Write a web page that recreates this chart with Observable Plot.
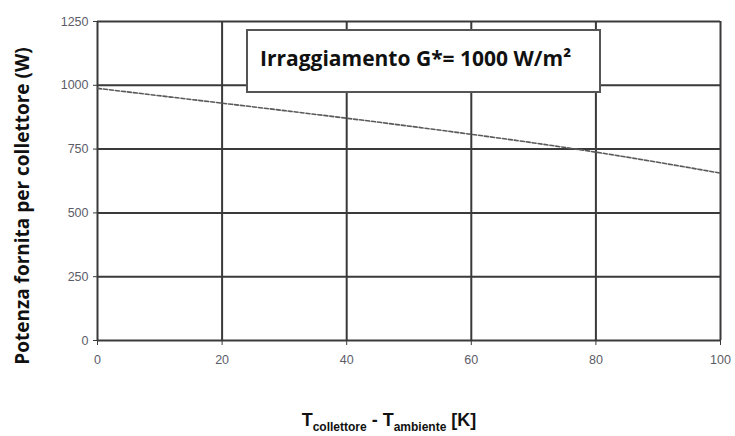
<!DOCTYPE html>
<html>
<head>
<meta charset="utf-8">
<script src="https://cdn.jsdelivr.net/npm/d3@7"></script>
<script src="https://cdn.jsdelivr.net/npm/@observablehq/plot@0.6"></script>
<style>
  html, body { margin: 0; padding: 0; background: #fff; }
  #chart { width: 735px; height: 436px; }
</style>
</head>
<body>
<div id="chart"></div>
<script>
// Data
const deltaT = [0, 20, 40, 60, 80, 100];           // K
const power = [988, 930, 871, 808, 738, 656];      // W
const xTicks = [0, 20, 40, 60, 80, 100];
const yTicks = [0, 250, 500, 750, 1000, 1250];
const yLabel = "Potenza fornita per collettore (W)";
const boxTitle = "Irraggiamento G*= 1000 W/m²";

const data = deltaT.map((d, i) => ({x: d, y: power[i]}));

const plot = Plot.plot({
  width: 735,
  height: 436,
  marginLeft: 97,
  marginRight: 15,
  marginTop: 21,
  marginBottom: 96,
  style: {background: "#fff", fontFamily: "Liberation Sans, Arial, sans-serif"},
  x: {domain: [0, 100], ticks: xTicks},
  y: {domain: [0, 1250], ticks: yTicks},
  marks: [
    Plot.gridX(xTicks, {stroke: "#3a3a3a", strokeOpacity: 1, strokeWidth: 2}),
    Plot.gridY(yTicks, {stroke: "#3a3a3a", strokeOpacity: 1, strokeWidth: 2}),
    Plot.axisX(xTicks, {tickSize: 5, tickPadding: 10, label: null, fill: "#5c5c68", stroke: "#3a3a3a", fontSize: 12.5, tickFormat: d => String(d)}),
    Plot.axisY(yTicks, {tickSize: 4, tickPadding: 5, label: null, fill: "#5c5c68", stroke: "#3a3a3a", fontSize: 12.5, tickFormat: d => String(d)}),
    Plot.line(data, {x: "x", y: "y", curve: "natural", stroke: "#5a5a5a", strokeWidth: 1.6, strokeDasharray: "4,2"})
  ]
});

document.getElementById("chart").appendChild(plot);

const svg = d3.select(plot);

// Title box
const box = svg.append("g");
box.append("rect")
  .attr("x", 247).attr("y", 30).attr("width", 353).attr("height", 62)
  .attr("fill", "#fff").attr("stroke", "#555").attr("stroke-width", 2);
box.append("text")
  .attr("x", 260).attr("y", 60)
  .attr("text-anchor", "start").attr("dominant-baseline", "middle")
  .attr("font-family", "'Open Sans', sans-serif").attr("font-weight", "bold")
  .attr("font-size", 21).attr("fill", "#111")
  .text(boxTitle);

// Y axis label
svg.append("text")
  .attr("transform", "translate(24,206) rotate(-90)")
  .attr("text-anchor", "middle").attr("dominant-baseline", "middle")
  .attr("font-family", "'Open Sans', sans-serif").attr("font-weight", "bold")
  .attr("font-size", 19).attr("fill", "#111")
  .text(yLabel);

// X axis label with subscripts
const xl = svg.append("text")
  .attr("x", 389).attr("y", 426)
  .attr("text-anchor", "middle")
  .attr("font-family", "'Liberation Sans Narrow', 'Arial Narrow', 'Liberation Sans', sans-serif")
  .attr("font-weight", "bold").attr("font-size", 18).attr("fill", "#111");
xl.append("tspan").text("T");
xl.append("tspan").attr("font-size", 12).attr("dy", 5).text("collettore");
xl.append("tspan").attr("dy", -5).text(" - T");
xl.append("tspan").attr("font-size", 12).attr("dy", 5).text("ambiente");
xl.append("tspan").attr("dy", -5).text(" [K]");
</script>
</body>
</html>
